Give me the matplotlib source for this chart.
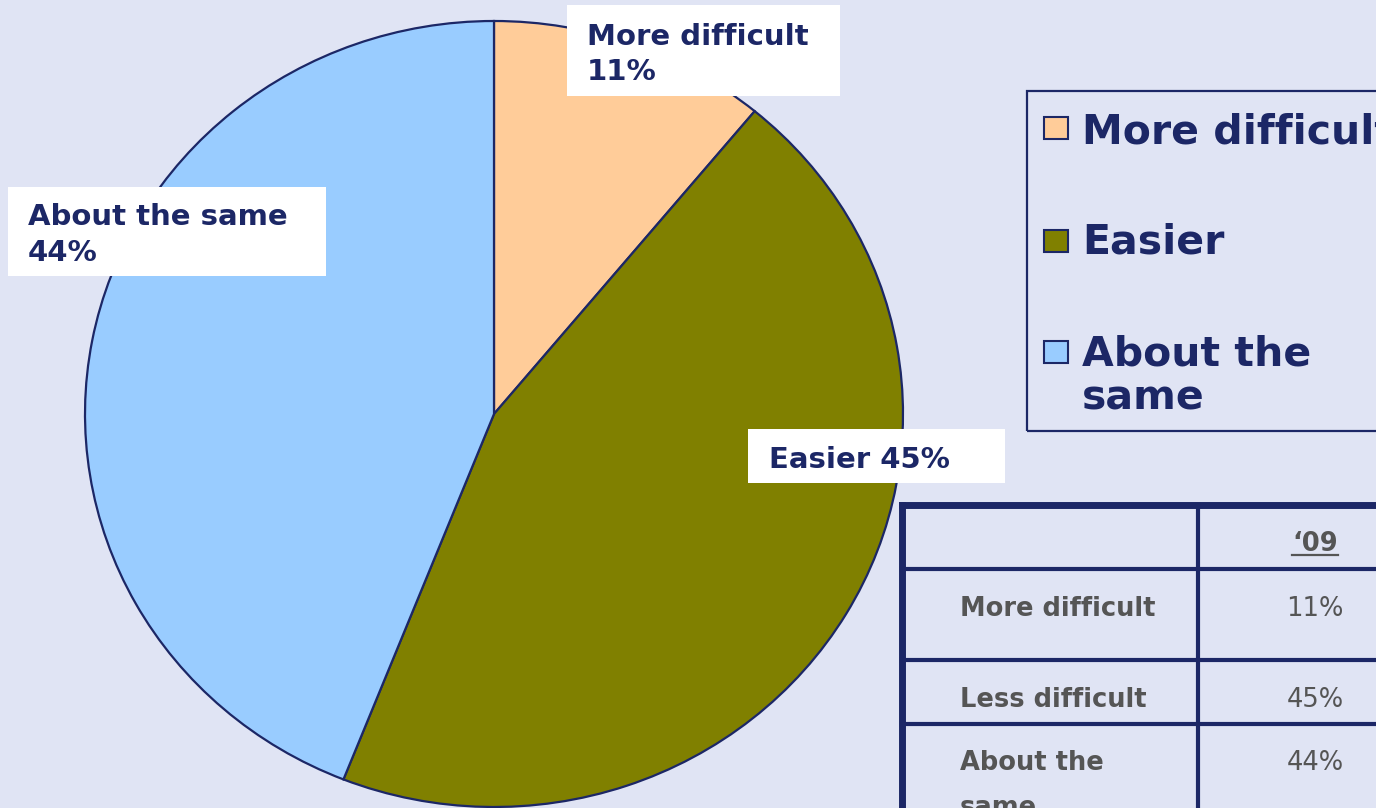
import matplotlib
matplotlib.use("Agg")
import matplotlib.pyplot as plt
from matplotlib.patches import Rectangle
from matplotlib.lines import Line2D

# ---- data ----
categories = ["More difficult", "Easier", "About the same"]
values = [11, 45, 44]
pie_labels = ["More difficult\n11%", "Easier 45%", "About the same\n44%"]
legend_labels = ["More difficult", "Easier", "About the\nsame"]
table_header = "\u201809"
table_rows = ["More difficult", "Less difficult", "About the\nsame"]
table_values = ["11%", "45%", "44%"]

# ---- style ----
W, H = 1376, 808
BG = "#E0E4F4"
NAVY = "#1C2766"
GRAY = "#555555"
colors = ["#FFCC99", "#808000", "#99CCFF"]
plt.rcParams['font.family'] = ['DejaVu Sans']

fig = plt.figure(figsize=(W / 100, H / 100), dpi=100, facecolor=BG)


def fx(x):
    return x / W


def fy(y):
    return 1 - y / H


def rect(x0, y0, x1, y1, **kw):
    r = Rectangle((fx(x0), fy(y1)), fx(x1) - fx(x0), fy(y0) - fy(y1),
                  transform=fig.transFigure, **kw)
    fig.patches.append(r)
    return r


def line(x0, y0, x1, y1, lw, color=NAVY):
    fig.add_artist(Line2D([fx(x0), fx(x1)], [fy(y0), fy(y1)], lw=lw, color=color,
                          transform=fig.transFigure, solid_capstyle='projecting'))


# ---- pie ----
ax = fig.add_axes([fx(85), fy(807), fx(903) - fx(85), fy(21) - fy(807)])
wedges, _ = ax.pie(values, colors=colors, startangle=90, counterclock=False,
                   wedgeprops=dict(edgecolor=NAVY, linewidth=1.6))
for w in wedges:
    w.set_clip_on(False)
ax.set_aspect('auto')
ax.set_xlim(-1, 1)
ax.set_ylim(-1, 1)
ax.axis('off')

# ---- pie data labels ----
label_boxes = [(567, 5, 840, 96), (748, 429, 1005, 483), (8, 187, 326, 276)]
label_text_x = [587, 769, 28]
label_baselines = [[45, 80], [468], [225, 261]]
for lab, box, tx, bls in zip(pie_labels, label_boxes, label_text_x, label_baselines):
    rect(*box, facecolor="white", edgecolor="none", zorder=5)
    for txt, bl in zip(lab.split("\n"), bls):
        fig.text(fx(tx), fy(bl), txt, fontsize=21, fontweight='bold', color=NAVY,
                 ha='left', va='baseline', zorder=6)

# ---- legend ----
rect(1027, 91, 1400, 431, facecolor="none", edgecolor=NAVY, linewidth=1.6)
sq_tops = [117, 230, 341]
txt_baselines = [[143], [253], [366, 410]]
for c, lab, st, bls in zip(colors, legend_labels, sq_tops, txt_baselines):
    rect(1044, st, 1068, st + 22, facecolor=c, edgecolor=NAVY, linewidth=1.5)
    for txt, bl in zip(lab.split("\n"), bls):
        fig.text(fx(1082), fy(bl), txt, fontsize=29.5, fontweight='bold', color=NAVY,
                 ha='left', va='baseline')

# ---- table ----
line(902, 505, 1400, 505, 5)       # top
line(902, 505, 902, 830, 5)        # left
line(1198, 505, 1198, 830, 3)      # column divider
for yy in [569, 660, 724]:
    line(902, yy, 1400, yy, 3)

fig.text(fx(1315), fy(551), table_header, fontsize=18.5, fontweight='bold', color=GRAY,
         ha='center', va='baseline')
line(1292, 555, 1338, 555, 1.6, GRAY)

row_baselines = [[616], [707], [770, 815]]
for lab, val, bls in zip(table_rows, table_values, row_baselines):
    for txt, bl in zip(lab.split("\n"), bls):
        fig.text(fx(960), fy(bl), txt, fontsize=18.5, fontweight='bold', color=GRAY,
                 ha='left', va='baseline')
    fig.text(fx(1315), fy(bls[0]), val, fontsize=18.5, color=GRAY,
             ha='center', va='baseline')

fig.savefig("out.png", dpi=100, facecolor=BG)
